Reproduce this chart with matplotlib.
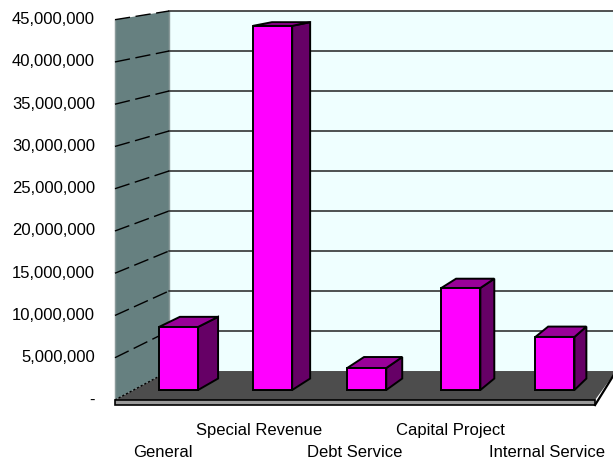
from matplotlib import pyplot as plt
from matplotlib.patches import Polygon

categories = ['General', 'Special Revenue', 'Debt Service', 'Capital Project', 'Internal Service']
values = [7600000, 43900000, 2650000, 12300000, 6400000]
y_ticks = [0, 5000000, 10000000, 15000000, 20000000, 25000000, 30000000, 35000000, 40000000, 45000000]
y_labels = ['-', '5,000,000', '10,000,000', '15,000,000', '20,000,000', '25,000,000',
            '30,000,000', '35,000,000', '40,000,000', '45,000,000']

plt.rcParams['font.family'] = ['Liberation Sans', 'DejaVu Sans']

W, H = 613, 459
fig = plt.figure(figsize=(W / 100, H / 100), dpi=100)
fig.patch.set_facecolor('white')

# axes is the plane of the bar fronts, everything else is projected from it
ax = fig.add_axes([131.5 / W, (H - 390) / H, 470.5 / W, 373.3 / H])
ax.set_xlim(-0.5, 4.5)
ax.set_ylim(0, 45000000)
ax.axis('off')

# vanishing point of the old 3D chart, and the depth of each plane
VP_X, VP_Y = 10.09, 64300000
FRONT, BAR, BACK = -0.0187, 0.0215, 0.0356
LEFT, RIGHT, RIGHT_BACK = -0.478, 4.53, 4.45
BAR_W = 0.415


def pt(x, v, d=0.0):
    return (x + (VP_X - x) * d, v + (VP_Y - v) * d)


def poly(points, color, z, edge='none', lw=0.0):
    ax.add_patch(Polygon(points, closed=True, facecolor=color, edgecolor=edge,
                         linewidth=lw, zorder=z, clip_on=False, joinstyle='miter'))


def line(a, b, z, **kw):
    ax.plot([a[0], b[0]], [a[1], b[1]], color=kw.pop('color', 'black'), zorder=z, clip_on=False, **kw)


top = y_ticks[-1]

# back wall and left wall
poly([pt(LEFT, 0, BACK), pt(RIGHT + 1, 0, BACK), pt(RIGHT + 1, top, BACK), pt(LEFT, top, BACK)], '#EFFFFF', 1)
poly([pt(LEFT, 0, FRONT), pt(LEFT, 0, BACK), pt(LEFT, top, BACK), pt(LEFT, top, FRONT)], '#668080', 1)
line(pt(LEFT, 0, BACK), pt(LEFT, top, BACK), 2, color='#8A9A9A', lw=1)
line(pt(LEFT, 0, FRONT), pt(LEFT, top, FRONT), 2, color='#8A9A9A', lw=1)

# grid
for v in y_ticks:
    if v > 0:
        line(pt(LEFT, v, BACK), pt(RIGHT + 1, v, BACK), 2, color='#222222', lw=1.1)
        line(pt(LEFT, v, FRONT), pt(LEFT, v, BACK), 2, lw=1, linestyle=(0, (11, 4)))

# floor with its thin front edge
poly([pt(LEFT, 0, FRONT), pt(RIGHT, 0, FRONT), pt(RIGHT_BACK, 0, BACK), pt(LEFT, 0, BACK)], '#4D4D4D', 3)
line(pt(LEFT, 0, FRONT), pt(LEFT, 0, BACK), 3.5, lw=1, linestyle=(0, (1.5, 1.5)))
edge = 600000
poly([pt(LEFT, 0, FRONT), pt(RIGHT, 0, FRONT), pt(RIGHT, -edge, FRONT), pt(LEFT, -edge, FRONT)],
     '#999999', 4, edge='black', lw=1.2)
line(pt(RIGHT, -edge, FRONT), pt(RIGHT_BACK, 0, BACK), 4, lw=1.6)

# bars
for i, v in enumerate(values):
    x0, x1 = i - BAR_W / 2, i + BAR_W / 2
    poly([pt(x1, 0), pt(x1, 0, BAR), pt(x1, v, BAR), pt(x1, v)], '#660066', 5, edge='black', lw=1.4)
    poly([pt(x0, v), pt(x1, v), pt(x1, v, BAR), pt(x0, v, BAR)], '#990099', 5, edge='black', lw=1.4)
    poly([pt(x0, 0), pt(x1, 0), pt(x1, v), pt(x0, v)], '#FF00FF', 6, edge='black', lw=1.4)

# value labels follow the front edge of the wall
label_x = pt(LEFT, 0, FRONT)[0] - 20.0 / 94.1
for v, lab in zip(y_ticks, y_labels):
    ax.text(label_x, pt(LEFT, v, FRONT)[1], lab, ha='right', va='center', fontsize=12, color='black', clip_on=False)

# category labels, staggered on two rows
rows = [-67 / 373.3, -45 / 373.3]
for i, lab in enumerate(categories):
    ax.text(pt(i, 0, FRONT)[0] + 2.5 / 94.1, rows[i % 2], lab, ha='center', va='baseline',
            fontsize=12, color='black', transform=ax.get_xaxis_transform(), clip_on=False)

plt.savefig('out.png', dpi=100)
